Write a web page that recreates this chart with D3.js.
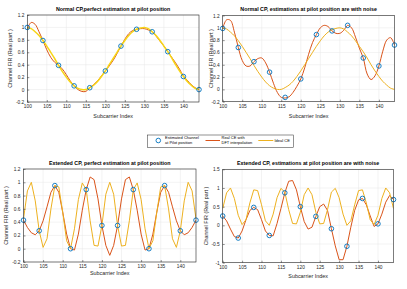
<!DOCTYPE html>
<html>
<head>
<meta charset="utf-8">
<script src="https://cdn.jsdelivr.net/npm/d3@7"></script>
<style>
  body { margin: 0; background: #fff; }
  svg { font-family: "Liberation Sans", Arial, sans-serif; }
  .grid line { stroke: #e6e6e6; stroke-width: 0.5; }
  .tick text { fill: #262626; font-size: 4.8px; }
</style>
</head>
<body>
<div id="chart"></div>
<script>
var svgWidth = 407;
var svgHeight = 289;

// subcarriers and pilot positions
var subcarriers = d3.range(100, 145);
var pilotPos = [100, 104, 108, 112, 116, 120, 124, 128, 132, 136, 140, 144];

// ideal channel, normal CP (subcarrier 100..144)
var idealNormal = [1.00, 0.98, 0.93, 0.87, 0.79, 0.70, 0.60, 0.50, 0.39, 0.29, 0.20, 0.12, 0.06, 0.02, 0.00,
  0.00, 0.03, 0.07, 0.13, 0.21, 0.30, 0.40, 0.50, 0.60, 0.70, 0.79, 0.87, 0.93, 0.97, 0.99,
  1.00, 0.98, 0.93, 0.87, 0.79, 0.70, 0.61, 0.51, 0.40, 0.30, 0.21, 0.13, 0.07, 0.02, 0.00];

// real CE with DFT interpolation, normal CP, perfect pilots
var dftNormalPerfect = [0.98, 1.08, 1.05, 0.93, 0.79, 0.64, 0.52, 0.44, 0.39, 0.33, 0.24, 0.14, 0.06, 0.00, -0.03,
  -0.03, 0.03, 0.08, 0.14, 0.22, 0.30, 0.38, 0.47, 0.58, 0.70, 0.81, 0.90, 0.95, 0.97, 0.98,
  0.98, 0.96, 0.93, 0.86, 0.78, 0.70, 0.61, 0.52, 0.43, 0.33, 0.22, 0.15, 0.08, 0.03, 0.00];
var pilotNormalPerfect = [1.00, 0.79, 0.39, 0.06, 0.03, 0.30, 0.70, 0.97, 0.93, 0.61, 0.21, 0.00];

// normal CP, noisy pilots
var dftNormalNoise = [0.99, 1.13, 1.12, 0.93, 0.68, 0.47, 0.38, 0.38, 0.45, 0.50, 0.51, 0.43, 0.28, 0.10, -0.05,
  -0.13, -0.14, -0.12, -0.05, 0.05, 0.17, 0.35, 0.57, 0.76, 0.89, 1.00, 1.04, 1.02, 0.95, 0.91,
  0.91, 0.96, 1.04, 1.00, 0.85, 0.67, 0.51, 0.25, 0.16, 0.22, 0.38, 0.62, 0.80, 0.84, 0.72];
var pilotNormalNoise = [0.99, 0.68, 0.45, 0.28, -0.13, 0.17, 0.89, 0.95, 1.04, 0.51, 0.38, 0.72];

// ideal channel, extended CP
var idealExtended = [0.45, 0.87, 1.00, 0.72, 0.27, 0.02, 0.15, 0.60, 0.95, 0.93, 0.55, 0.12, 0.00, 0.30, 0.74,
  0.99, 0.89, 0.42, 0.05, 0.04, 0.35, 0.82, 1.00, 0.82, 0.35, 0.04, 0.05, 0.42, 0.89, 0.99,
  0.74, 0.30, 0.00, 0.12, 0.55, 0.93, 0.95, 0.60, 0.15, 0.02, 0.27, 0.72, 1.00, 0.87, 0.45];

// extended CP, perfect pilots
var dftExtendedPerfect = [0.43, 0.32, 0.24, 0.21, 0.27, 0.42, 0.63, 0.85, 0.95, 0.85, 0.55, 0.22, 0.00, -0.02, 0.22,
  0.58, 0.89, 1.08, 1.04, 0.75, 0.35, 0.05, -0.10, 0.05, 0.35, 0.75, 1.04, 1.08, 0.89, 0.58,
  0.22, -0.02, 0.00, 0.22, 0.55, 0.85, 0.95, 0.85, 0.63, 0.42, 0.27, 0.21, 0.24, 0.32, 0.43];
var pilotExtendedPerfect = [0.43, 0.27, 0.95, 0.00, 0.89, 0.35, 0.35, 0.89, 0.00, 0.95, 0.27, 0.43];

// extended CP, noisy pilots
var dftExtendedNoise = [0.25, 0.12, -0.10, -0.30, -0.34, -0.15, 0.15, 0.40, 0.48, 0.42, 0.15, -0.15, -0.27, -0.28, 0.05,
  0.45, 0.87, 1.18, 1.20, 0.95, 0.50, 0.10, -0.10, -0.05, 0.24, 0.50, 0.57, 0.40, -0.09, -0.55,
  -0.92, -0.92, -0.56, -0.05, 0.40, 0.68, 0.72, 0.55, 0.25, -0.03, 0.04, 0.30, 0.62, 0.80, 0.69];
var pilotExtendedNoise = [0.25, -0.34, 0.48, -0.27, 0.87, 0.50, 0.24, -0.09, -0.56, 0.72, 0.04, 0.69];

var xTicks = [100, 105, 110, 115, 120, 125, 130, 135, 140];
var yTicksSmall = [-0.2, 0, 0.2, 0.4, 0.6, 0.8, 1, 1.2];
var yTicksLarge = [-1, -0.5, 0, 0.5, 1, 1.5];

var blue = "#0072BD";
var red = "#D95319";
var gold = "#EDB120";

var svg = d3.select("#chart")
    .append("svg")
    .attr("width", svgWidth)
    .attr("height", svgHeight);

function drawPanel(p) {
    var x = d3.scaleLinear().domain([100, 144]).range([p.left, p.right]);
    var y = d3.scaleLinear().domain(p.yDomain).range([p.bottom, p.top]);
    var g = svg.append("g");

    // grid
    var grid = g.append("g").attr("class", "grid");
    grid.selectAll(".gx").data(xTicks).enter().append("line")
        .attr("x1", d => x(d)).attr("x2", d => x(d))
        .attr("y1", p.top).attr("y2", p.bottom);
    grid.selectAll(".gy").data(p.yTicks).enter().append("line")
        .attr("x1", p.left).attr("x2", p.right)
        .attr("y1", d => y(d)).attr("y2", d => y(d));

    var clip = "clip" + p.id;
    g.append("clipPath").attr("id", clip).append("rect")
        .attr("x", p.left).attr("y", p.top)
        .attr("width", p.right - p.left).attr("height", p.bottom - p.top);

    var line = d3.line()
        .x((d, i) => x(subcarriers[i]))
        .y(d => y(d))
        .curve(p.smooth ? d3.curveCatmullRom : d3.curveLinear);

    var plot = g.append("g").attr("clip-path", "url(#" + clip + ")");
    plot.append("path").datum(p.dft)
        .attr("fill", "none").attr("stroke", red).attr("stroke-width", 1)
        .attr("d", line);
    plot.append("path").datum(p.ideal)
        .attr("fill", "none").attr("stroke", p.idealColor).attr("stroke-width", p.idealWidth)
        .attr("d", line);

    // pilots
    g.selectAll(".pilot").data(p.pilots).enter().append("circle")
        .attr("cx", (d, i) => x(pilotPos[i]))
        .attr("cy", d => y(d))
        .attr("r", 2.3)
        .attr("fill", "none")
        .attr("stroke", blue)
        .attr("stroke-width", 0.9);

    // axes
    var bottomAxis = d3.axisBottom(x).tickValues(xTicks).tickSize(-2).tickPadding(3);
    var leftAxis = d3.axisLeft(y).tickValues(p.yTicks).tickSize(-2).tickPadding(3)
        .tickFormat(d => String(d));
    var ax = g.append("g").attr("transform", `translate(0, ${p.bottom})`).call(bottomAxis);
    var ay = g.append("g").attr("transform", `translate(${p.left}, 0)`).call(leftAxis);
    [ax, ay].forEach(a => {
        a.select(".domain").remove();
        a.selectAll(".tick line").attr("stroke", "#262626").attr("stroke-width", 0.5);
        a.selectAll(".tick text").attr("font-family", null).attr("font-size", null);
    });

    g.append("rect")
        .attr("x", p.left).attr("y", p.top)
        .attr("width", p.right - p.left).attr("height", p.bottom - p.top)
        .attr("fill", "none").attr("stroke", "#262626").attr("stroke-width", 0.6);

    g.append("text")
        .attr("x", (p.left + p.right) / 2).attr("y", p.top - 4.5)
        .attr("text-anchor", "middle").attr("font-weight", "bold")
        .attr("font-size", 5.3).attr("fill", "#000")
        .text(p.title);

    g.append("text")
        .attr("x", (p.left + p.right) / 2).attr("y", p.xlabelY)
        .attr("text-anchor", "middle").attr("font-size", 5.4).attr("fill", "#262626")
        .text("Subcarrier Index");

    g.append("text")
        .attr("transform", `translate(${p.ylabelX}, ${(p.top + p.bottom) / 2}) rotate(-90)`)
        .attr("text-anchor", "middle").attr("font-size", 5.4).attr("fill", "#262626")
        .text("Channel FIR (Real part )");
}

drawPanel({ id: 1, left: 27.3, right: 199, top: 15, bottom: 102, yDomain: [-0.2, 1.2], yTicks: yTicksSmall,
    ideal: idealNormal, dft: dftNormalPerfect, pilots: pilotNormalPerfect, smooth: true,
    idealColor: "#F7D617", idealWidth: 1.5, ylabelX: 12, xlabelY: 118,
    title: "Normal CP,perfect estimation at pilot position" });
drawPanel({ id: 2, left: 222.7, right: 394.5, top: 15.5, bottom: 101.7, yDomain: [-0.2, 1.2], yTicks: yTicksSmall,
    ideal: idealNormal, dft: dftNormalNoise, pilots: pilotNormalNoise, smooth: true,
    idealColor: gold, idealWidth: 1, ylabelX: 213, xlabelY: 117.5,
    title: "Normal CP, estimations at pilot position are with noise" });
drawPanel({ id: 3, left: 23.5, right: 196, top: 169, bottom: 262, yDomain: [-0.2, 1.2], yTicks: yTicksSmall,
    ideal: idealExtended, dft: dftExtendedPerfect, pilots: pilotExtendedPerfect, smooth: false,
    idealColor: gold, idealWidth: 1, ylabelX: 8, xlabelY: 275,
    title: "Extended CP, perfect estimation at pilot position" });
drawPanel({ id: 4, left: 222.7, right: 393.5, top: 169.3, bottom: 262.7, yDomain: [-1, 1.5], yTicks: yTicksLarge,
    ideal: idealExtended, dft: dftExtendedNoise, pilots: pilotExtendedNoise, smooth: false,
    idealColor: gold, idealWidth: 1, ylabelX: 208, xlabelY: 277.5,
    title: "Extended CP, estimations at pilot position are with noise" });

// legend
var legend = svg.append("g");
legend.append("rect")
    .attr("x", 147.3).attr("y", 135).attr("width", 146).attr("height", 12.5)
    .attr("fill", "#fff").attr("stroke", "#262626").attr("stroke-width", 0.5);
legend.append("circle")
    .attr("cx", 158.3).attr("cy", 140.5).attr("r", 2.3)
    .attr("fill", "none").attr("stroke", blue).attr("stroke-width", 0.9);
legend.append("line")
    .attr("x1", 205.5).attr("x2", 220).attr("y1", 140.5).attr("y2", 140.5)
    .attr("stroke", red).attr("stroke-width", 1);
legend.append("line")
    .attr("x1", 258.3).attr("x2", 273.3).attr("y1", 140.5).attr("y2", 140.5)
    .attr("stroke", gold).attr("stroke-width", 1);
var legendText = [
    { x: 165, lines: ["Estimated Channel", "at Pilot position"] },
    { x: 221.5, lines: ["Real CE with", "DFT  interpolation"] },
    { x: 274.5, lines: ["Ideal CE"] }
];
legendText.forEach(function (t) {
    var txt = legend.append("text").attr("font-size", 4).attr("fill", "#000");
    t.lines.forEach(function (s, i) {
        txt.append("tspan")
            .attr("x", t.x)
            .attr("y", t.lines.length === 1 ? 142 : 139.4 + i * 5)
            .text(s);
    });
});
</script>
</body>
</html>
